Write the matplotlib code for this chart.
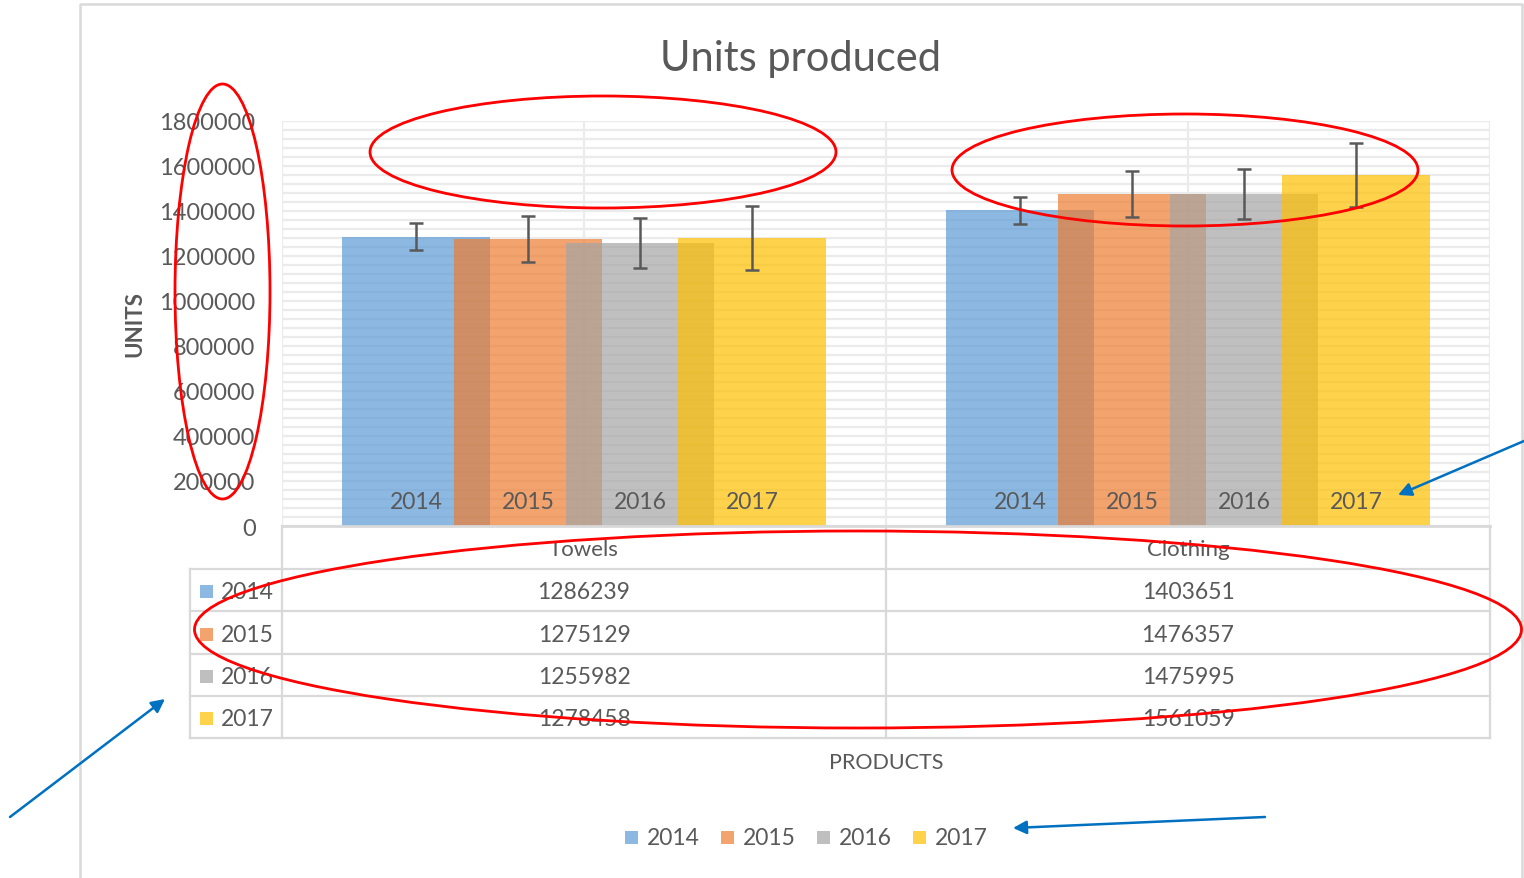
import matplotlib
matplotlib.use("Agg")
import matplotlib.pyplot as plt
import numpy as np
from matplotlib.patches import Ellipse, Rectangle

plt.rcParams['font.family'] = ['Lato', 'DejaVu Sans']

# data
categories = ["Towels", "Clothing"]
years = ["2014", "2015", "2016", "2017"]
units_2014 = [1286239, 1403651]
units_2015 = [1275129, 1476357]
units_2016 = [1255982, 1475995]
units_2017 = [1278458, 1561059]
errors = [60000, 102000, 111000, 142000]
y_ticks = [0, 200000, 400000, 600000, 800000, 1000000, 1200000, 1400000, 1600000, 1800000]

series = [units_2014, units_2015, units_2016, units_2017]
colors = ['#5B9BD5', '#ED7D31', '#A5A5A5', '#FFC000']
txt = '#595959'
grid = '#EBEBEB'
W, H = 1524, 879

fig = plt.figure(figsize=(W / 100, H / 100), dpi=100)

# plot area in pixels
L, R, T, B = 282, 1490, 122, 527
ax = fig.add_axes([L / W, 1 - B / H, (R - L) / W, (B - T) / H])

x = np.arange(len(categories))
step = 0.1854
width = 0.245
for i, vals in enumerate(series):
    pos = x + (i - 1.5) * step
    ax.bar(pos, vals, width, color=colors[i], alpha=0.7, zorder=2, linewidth=0)
    ax.errorbar(pos, vals, yerr=errors[i], fmt='none', ecolor='#595959',
                elinewidth=1.8, capsize=5, capthick=1.8, zorder=3)
    for p in pos:
        ax.text(p, 110000, years[i], ha='center', va='center', fontsize=16.5,
                color=txt, zorder=4)

ax.set_xlim(-0.5, 1.5)
ax.set_ylim(0, 1800000)
ax.set_yticks(y_ticks)
ax.set_yticklabels([str(v) for v in y_ticks])
ax.set_yticks(np.arange(0, 1800001, 40000), minor=True)
ax.tick_params(axis='y', which='both', length=0, pad=19, labelsize=17, labelcolor=txt)
ax.set_xticks([])
ax.grid(axis='y', which='both', color=grid, lw=1.6, zorder=0)
for xv in [-0.5, 0, 0.5, 1, 1.5]:
    ax.axvline(xv, color=grid, lw=1.6, zorder=0)
for s in ['left', 'right', 'top']:
    ax.spines[s].set_visible(False)
ax.spines['bottom'].set_color('#D9D9D9')
ax.spines['bottom'].set_linewidth(2)
ax.set_ylabel("UNITS", fontsize=16, fontweight='bold', color=txt)
ax.yaxis.set_label_coords(-0.113, 0.5)

fig.text(801 / W, 1 - 59 / H, "Units produced", ha='center', va='center',
         fontsize=30, color=txt)

# overlay in pixel coordinates: frame, data table, legend, annotations
ov = fig.add_axes([0, 0, 1, 1], zorder=5)
ov.set_xlim(0, W)
ov.set_ylim(H, 0)
ov.axis('off')
ov.patch.set_alpha(0)

ov.plot([80, 80, 1522, 1522], [H, 5, 5, H], color='#D9D9D9', lw=1.8)

# data table
col_edges = [190, L, 886, R]
row_edges = [B, 570, 612, 655, 697, 739]
tc = '#D9D9D9'
for xv in col_edges[1:]:
    ov.plot([xv, xv], [B, row_edges[-1]], color=tc, lw=1.6)
ov.plot([190, 190], [row_edges[1], row_edges[-1]], color=tc, lw=1.6)
for yv in row_edges[1:]:
    ov.plot([190, R], [yv, yv], color=tc, lw=1.6)
for j, cat in enumerate(categories):
    cx = (col_edges[j + 1] + col_edges[j + 2]) / 2
    ov.text(cx, (row_edges[0] + row_edges[1]) / 2 + 2, cat, ha='center', va='center',
            fontsize=16, color=txt)
    for i, vals in enumerate(series):
        cy = (row_edges[i + 1] + row_edges[i + 2]) / 2 + 2
        ov.text(cx, cy, str(vals[j]), ha='center', va='center', fontsize=16.5, color=txt)
for i, yr in enumerate(years):
    cy = (row_edges[i + 1] + row_edges[i + 2]) / 2 + 2
    ov.add_patch(Rectangle((200, cy - 7), 13, 13, color=colors[i], alpha=0.7, lw=0))
    ov.text(221, cy, yr, ha='left', va='center', fontsize=16.5, color=txt)

ov.text(886, 763, "PRODUCTS", ha='center', va='center', fontsize=15.5, color=txt)

# legend
leg_x = [625, 721, 817, 913]
for i, yr in enumerate(years):
    ov.add_patch(Rectangle((leg_x[i], 832), 13, 13, color=colors[i], alpha=0.7, lw=0))
    ov.text(leg_x[i] + 22, 839, yr, ha='left', va='center', fontsize=16.5, color=txt)

# red ellipses
for (cx, cy, w, h) in [(222.5, 292.5, 95, 415), (603, 153, 466, 112),
                       (1185, 171, 466, 112), (858, 630.5, 1327, 197)]:
    ov.add_patch(Ellipse((cx, cy), w, h, fill=False, edgecolor='#FF0000', lw=2, zorder=6))

# blue arrows
for (tail, head) in [((1524, 442), (1398, 496)), ((10, 818), (165, 700)),
                     ((1265, 818), (1013, 829))]:
    ov.annotate("", xy=head, xytext=tail,
                arrowprops=dict(arrowstyle='-|>', mutation_scale=20, color='#0070C0',
                                lw=1.8, shrinkA=0, shrinkB=0), zorder=6)

fig.savefig("out.png", dpi=100)
